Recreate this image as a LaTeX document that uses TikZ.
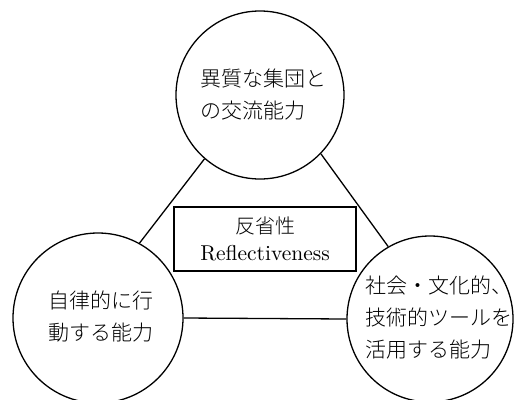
\documentclass[tikz,border=0pt]{standalone}
\usepackage{fontspec}
\newfontfamily\cjk{Noto Sans CJK JP}[UprightFont={* Light}]
\newfontfamily\lmten{lmroman10-regular}[Extension=.otf]
\begin{document}
\begin{tikzpicture}[x=1pt,y=-1pt,
  ring/.style={draw=black,line width=1.3pt,circle,minimum size=#1,inner sep=0pt},
  jtext/.style={align=left,anchor=west,inner sep=0pt,font=\cjk\fontsize{21}{32}\selectfont},
  link/.style={draw=black,line width=1.3pt},
  refbox/.style={draw=black,line width=1.3pt,rectangle,minimum width=182pt,minimum height=64pt,inner sep=0pt,align=center,font=\lmten\fontsize{21.5}{27}\selectfont}]
\useasboundingbox (0,0) rectangle (521,399);
\node[ring=168pt] (top) at (260,95) {};
\node[ring=170pt] (left) at (98,318) {};
\node[ring=166pt] (right) at (430,319) {};
\node[refbox] (box) at (265,239) {{\cjk\fontsize{20}{27}\selectfont 反省性}\\Reflectiveness};
\draw[link] (top.229) -- (left.61);
\draw[link] (top.316) -- (right.120);
\draw[link] (left.0) -- (right.180);
\node[jtext] (ttop) at (200,95) {異質な集団と\\の交流能力};
\node[jtext] (tleft) at (48,316) {自律的に行\\動する能力};
\node[jtext] (tright) at (365,317) {社会・文化的、\\技術的ツールを\\活用する能力};
\end{tikzpicture}
\end{document}
